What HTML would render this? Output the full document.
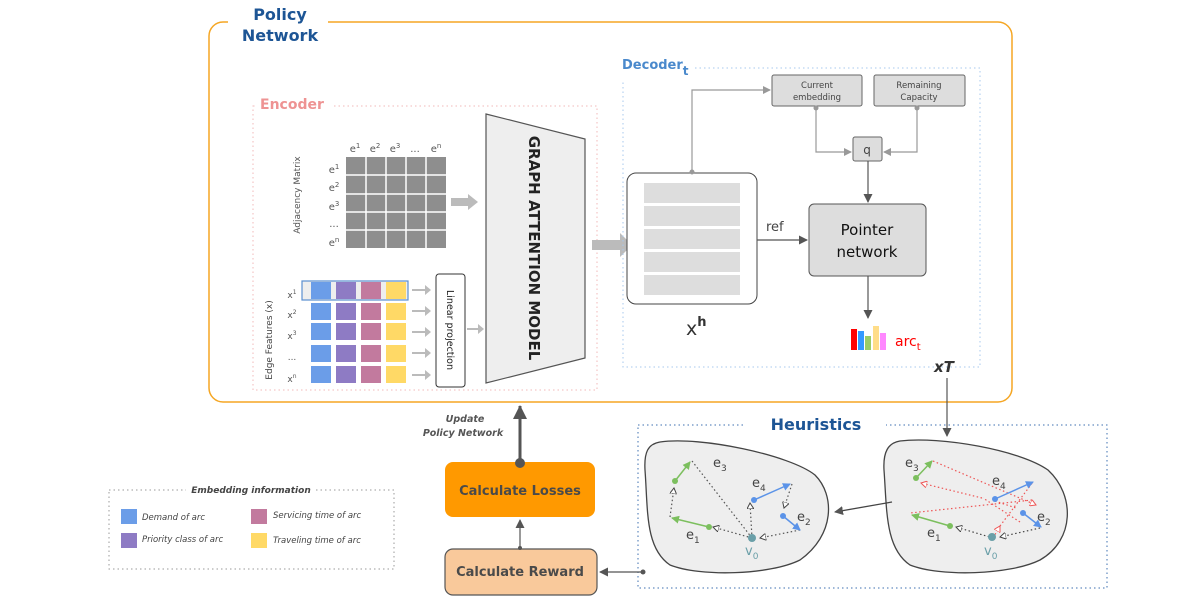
<!DOCTYPE html>
<html><head><meta charset="utf-8"><style>
html,body{margin:0;padding:0;background:#fff;}
svg{display:block;font-family:"DejaVu Sans","Liberation Sans",sans-serif;}
</style></head><body>
<svg width="1196" height="603" viewBox="0 0 1196 603" xmlns="http://www.w3.org/2000/svg">
<defs>
<marker id="ag" markerWidth="8" markerHeight="8" refX="7" refY="4" orient="auto" markerUnits="userSpaceOnUse"><path d="M0,0 L8,4 L0,8 z" fill="#999"/></marker>
<marker id="ad" markerWidth="9" markerHeight="9" refX="8" refY="4.5" orient="auto" markerUnits="userSpaceOnUse"><path d="M0,0 L9,4.5 L0,9 z" fill="#555"/></marker>
<marker id="ab" markerWidth="14" markerHeight="14" refX="13" refY="7" orient="auto" markerUnits="userSpaceOnUse"><path d="M0,0 L14,7 L0,14 z" fill="#555"/></marker>
<marker id="ob" markerWidth="8" markerHeight="8" refX="7" refY="4" orient="auto" markerUnits="userSpaceOnUse"><path d="M0,0 L8,4 L0,8 z" fill="#5b93e8"/></marker>
<marker id="og" markerWidth="8" markerHeight="8" refX="7" refY="4" orient="auto" markerUnits="userSpaceOnUse"><path d="M0,0 L8,4 L0,8 z" fill="#7cbf5e"/></marker>
<marker id="ot" markerWidth="7" markerHeight="7" refX="6" refY="3.5" orient="auto" markerUnits="userSpaceOnUse"><path d="M0,0 L6,3.5 L0,7 z" fill="#fff" stroke="#444"/></marker>
<marker id="or" markerWidth="7" markerHeight="7" refX="6" refY="3.5" orient="auto" markerUnits="userSpaceOnUse"><path d="M0,0 L6,3.5 L0,7 z" fill="#fff" stroke="#e55"/></marker>
</defs>

<rect x="209" y="22" width="803" height="380" rx="14" fill="none" stroke="#f5a623" stroke-width="1.5"/>
<rect x="228" y="14" width="100" height="14" fill="#fff"/>
<text x="280" y="20" font-size="16" font-weight="bold" fill="#1d5595" text-anchor="middle">Policy</text>
<text x="280" y="41" font-size="16" font-weight="bold" fill="#1d5595" text-anchor="middle">Network</text>

<rect x="253" y="106" width="344" height="284" fill="none" stroke="#f2b8b8" stroke-dasharray="1.5,3"/>
<rect x="255" y="96" width="76" height="18" fill="#fff"/>
<text x="260" y="109" font-size="14" font-weight="bold" fill="#ee9393">Encoder</text>

<g font-size="10" fill="#555">
<text x="355" y="152" text-anchor="middle">e<tspan font-size="7" dy="-4">1</tspan></text>
<text x="375" y="152" text-anchor="middle">e<tspan font-size="7" dy="-4">2</tspan></text>
<text x="395" y="152" text-anchor="middle">e<tspan font-size="7" dy="-4">3</tspan></text>
<text x="415" y="152" text-anchor="middle">...</text>
<text x="436" y="152" text-anchor="middle">e<tspan font-size="7" dy="-4">n</tspan></text>
<text x="334" y="173" text-anchor="middle">e<tspan font-size="7" dy="-4">1</tspan></text>
<text x="334" y="191" text-anchor="middle">e<tspan font-size="7" dy="-4">2</tspan></text>
<text x="334" y="210" text-anchor="middle">e<tspan font-size="7" dy="-4">3</tspan></text>
<text x="334" y="227" text-anchor="middle">...</text>
<text x="334" y="246" text-anchor="middle">e<tspan font-size="7" dy="-4">n</tspan></text>
</g>
<rect x="346" y="157" width="100" height="91" fill="#8e8e8e"/>
<g stroke="#fff" stroke-width="1.5">
<line x1="366" y1="157" x2="366" y2="248"/><line x1="386" y1="157" x2="386" y2="248"/><line x1="406" y1="157" x2="406" y2="248"/><line x1="426" y1="157" x2="426" y2="248"/>
<line x1="346" y1="175" x2="446" y2="175"/><line x1="346" y1="194" x2="446" y2="194"/><line x1="346" y1="212" x2="446" y2="212"/><line x1="346" y1="230" x2="446" y2="230"/>
</g>
<text transform="translate(300,195) rotate(-90)" font-size="9" fill="#555" text-anchor="middle">Adjacency Matrix</text>
<path d="M451,198 L468,198 L468,194 L478,202 L468,210 L468,206 L451,206 z" fill="#bbb"/>

<text transform="translate(272,340) rotate(-90)" font-size="9" fill="#444" text-anchor="middle">Edge Features (x)</text>
<g font-size="9" fill="#555">
<text x="292" y="298" text-anchor="middle">x<tspan font-size="6" dy="-4">1</tspan></text>
<text x="292" y="318" text-anchor="middle">x<tspan font-size="6" dy="-4">2</tspan></text>
<text x="292" y="339" text-anchor="middle">x<tspan font-size="6" dy="-4">3</tspan></text>
<text x="292" y="360" text-anchor="middle">...</text>
<text x="292" y="382" text-anchor="middle">x<tspan font-size="6" dy="-4">n</tspan></text>
</g>
<rect x="302" y="281" width="106" height="19" fill="#eee" stroke="#5b8fd0" stroke-width="1.2"/>
<g>
<rect x="311" y="282" width="20" height="17" fill="#6b9de8"/><rect x="336" y="282" width="20" height="17" fill="#8e7bc4"/><rect x="361" y="282" width="20" height="17" fill="#c27a9e"/><rect x="386" y="282" width="20" height="17" fill="#ffd966"/>
<rect x="311" y="303" width="20" height="17" fill="#6b9de8"/><rect x="336" y="303" width="20" height="17" fill="#8e7bc4"/><rect x="361" y="303" width="20" height="17" fill="#c27a9e"/><rect x="386" y="303" width="20" height="17" fill="#ffd966"/>
<rect x="311" y="323" width="20" height="17" fill="#6b9de8"/><rect x="336" y="323" width="20" height="17" fill="#8e7bc4"/><rect x="361" y="323" width="20" height="17" fill="#c27a9e"/><rect x="386" y="323" width="20" height="17" fill="#ffd966"/>
<rect x="311" y="345" width="20" height="17" fill="#6b9de8"/><rect x="336" y="345" width="20" height="17" fill="#8e7bc4"/><rect x="361" y="345" width="20" height="17" fill="#c27a9e"/><rect x="386" y="345" width="20" height="17" fill="#ffd966"/>
<rect x="311" y="366" width="20" height="17" fill="#6b9de8"/><rect x="336" y="366" width="20" height="17" fill="#8e7bc4"/><rect x="361" y="366" width="20" height="17" fill="#c27a9e"/><rect x="386" y="366" width="20" height="17" fill="#ffd966"/>
</g>
<g fill="#bbb">
<path d="M412,289 h13 v-4 l6,5 l-6,5 v-4 h-13z"/>
<path d="M412,310 h13 v-4 l6,5 l-6,5 v-4 h-13z"/>
<path d="M412,331 h13 v-4 l6,5 l-6,5 v-4 h-13z"/>
<path d="M412,352 h13 v-4 l6,5 l-6,5 v-4 h-13z"/>
<path d="M412,374 h13 v-4 l6,5 l-6,5 v-4 h-13z"/>
<path d="M467,328 h11 v-4 l6,5 l-6,5 v-4 h-11z"/>
</g>
<rect x="436" y="274" width="29" height="113" rx="3" fill="#fff" stroke="#333"/>
<text transform="translate(447,330) rotate(90)" font-size="9.5" fill="#222" text-anchor="middle">Linear projection</text>

<polygon points="486,114 585,139 585,358 486,383" fill="#eee" stroke="#555" stroke-width="1.2"/>
<text transform="translate(529,248) rotate(90)" font-size="15" font-weight="bold" fill="#222" text-anchor="middle">GRAPH ATTENTION MODEL</text>
<path d="M592,240 h28 v-7 l12,12 l-12,12 v-7 h-28z" fill="#bbb"/>

<rect x="623" y="68" width="357" height="299" fill="none" stroke="#a7c8ee" stroke-dasharray="1.5,3"/>
<rect x="620" y="56" width="72" height="24" fill="#fff"/>
<text x="622" y="69" font-size="13" font-weight="bold" fill="#4a89cc">Decoder<tspan font-size="12" dy="6">t</tspan></text>

<rect x="627" y="173" width="130" height="131" rx="9" fill="#fff" stroke="#444"/>
<g fill="#ddd">
<rect x="644" y="183" width="96" height="20"/><rect x="644" y="206" width="96" height="20"/><rect x="644" y="229" width="96" height="20"/><rect x="644" y="252" width="96" height="20"/><rect x="644" y="275" width="96" height="20"/>
</g>
<text x="686" y="335" font-size="19" fill="#333">x<tspan font-size="13" font-weight="bold" dy="-9">h</tspan></text>

<rect x="772" y="75" width="90" height="31" rx="2" fill="#ddd" stroke="#666"/>
<text x="817" y="88" font-size="8.5" fill="#444" text-anchor="middle">Current</text>
<text x="817" y="100" font-size="8.5" fill="#444" text-anchor="middle">embedding</text>
<rect x="874" y="75" width="91" height="31" rx="2" fill="#ddd" stroke="#666"/>
<text x="919" y="88" font-size="8.5" fill="#444" text-anchor="middle">Remaining</text>
<text x="919" y="100" font-size="8.5" fill="#444" text-anchor="middle">Capacity</text>
<rect x="853" y="137" width="29" height="24" rx="2" fill="#ddd" stroke="#666"/>
<text x="867" y="154" font-size="12" fill="#444" text-anchor="middle">q</text>
<rect x="809" y="204" width="117" height="72" rx="5" fill="#ddd" stroke="#555"/>
<text x="867" y="235" font-size="15" fill="#111" text-anchor="middle">Pointer</text>
<text x="867" y="257" font-size="15" fill="#111" text-anchor="middle">network</text>

<g stroke="#999" fill="none" stroke-width="1.2">
<path d="M692,172 V90 H770" marker-end="url(#ag)"/>
<path d="M816,108 V152 H851" marker-end="url(#ag)"/>
<path d="M917,108 V152 H884" marker-end="url(#ag)"/>
</g>
<circle cx="692" cy="172" r="2.5" fill="#999"/><circle cx="816" cy="108" r="2.5" fill="#999"/><circle cx="917" cy="108" r="2.5" fill="#999"/>
<g stroke="#555" fill="none" stroke-width="1.2">
<path d="M868,161 V202" marker-end="url(#ad)"/>
<path d="M757,240 H807" marker-end="url(#ad)"/>
<path d="M868,276 V318" marker-end="url(#ad)"/>
</g>
<text x="766" y="231" font-size="13" fill="#444">ref</text>
<rect x="851" y="329" width="6" height="21" fill="#f00"/><rect x="858" y="331" width="6" height="19" fill="#39f"/><rect x="865" y="336" width="6" height="14" fill="#9c6"/><rect x="873" y="326" width="6" height="24" fill="#fd8"/><rect x="880" y="333" width="6" height="17" fill="#f8f"/>
<text x="895" y="346" font-size="14" fill="#f00">arc<tspan font-size="10" dy="4">t</tspan></text>
<text x="934" y="372" font-size="15" font-weight="bold" font-style="italic" fill="#333">xT</text>
<path d="M947,378 V436" stroke="#555" stroke-width="1.2" marker-end="url(#ad)"/>

<rect x="638" y="425" width="469" height="163" fill="none" stroke="#3d6fb0" stroke-dasharray="1.5,3"/>
<rect x="746" y="414" width="140" height="20" fill="#fff"/>
<text x="816" y="430" font-size="16" font-weight="bold" fill="#1d5595" text-anchor="middle">Heuristics</text>

<path d="M660,442 C700,436 790,455 815,475 C835,495 835,535 800,560 C770,575 700,577 670,565 C645,548 648,510 645,470 C644,452 648,444 660,442z" fill="#eee" stroke="#444" stroke-width="1.3"/>
<path d="M900,441 C940,436 1020,450 1048,470 C1075,495 1075,540 1040,560 C1010,575 940,577 910,565 C885,548 887,510 884,470 C883,452 888,443 900,441z" fill="#eee" stroke="#444" stroke-width="1.3"/>
<path d="M892,502 L835,512" stroke="#444" stroke-width="1.3" marker-end="url(#ad)"/>

<g stroke="#555" stroke-dasharray="1.5,2.5" fill="none" stroke-width="1.2">
<path d="M692,461 L752,538"/>
<path d="M670,517 L674,488" marker-end="url(#ot)"/>
<path d="M752,538 L750,503" marker-end="url(#ot)"/>
<path d="M752,538 L713,527" marker-end="url(#ot)"/>
<path d="M800,530 L760,538" marker-end="url(#ot)"/>
<path d="M792,484 L784,508" marker-end="url(#ot)"/>
</g>
<path d="M675,481 L690,462" stroke="#7cbf5e" stroke-width="1.5" marker-end="url(#og)"/>
<path d="M709,527 L672,518" stroke="#7cbf5e" stroke-width="1.5" marker-end="url(#og)"/>
<path d="M754,500 L790,484" stroke="#5b93e8" stroke-width="1.5" marker-end="url(#ob)"/>
<path d="M783,516 L800,530" stroke="#5b93e8" stroke-width="1.5" marker-end="url(#ob)"/>
<circle cx="675" cy="481" r="3" fill="#7cbf5e"/><circle cx="709" cy="527" r="3" fill="#7cbf5e"/>
<circle cx="754" cy="500" r="3" fill="#5b93e8"/><circle cx="783" cy="516" r="3" fill="#5b93e8"/>
<circle cx="752" cy="538" r="4" fill="#6a9fa8"/>
<g font-size="13" fill="#444">
<text x="713" y="467">e<tspan font-size="9" dy="4">3</tspan></text>
<text x="752" y="487">e<tspan font-size="9" dy="4">4</tspan></text>
<text x="797" y="521">e<tspan font-size="9" dy="4">2</tspan></text>
<text x="686" y="539">e<tspan font-size="9" dy="4">1</tspan></text>
</g>
<text x="745" y="555" font-size="13" fill="#6a9fa8">v<tspan font-size="9" dy="4">0</tspan></text>

<g stroke="#e55" stroke-dasharray="1.5,2.5" fill="none" stroke-width="1.2">
<path d="M933,461 L1036,505" marker-end="url(#or)"/>
<path d="M1032,500 L910,513"/>
<path d="M993,538 L1000,526" marker-end="url(#or)"/>
<path d="M1000,526 L1033,482"/>
<path d="M1020,522 L983,498"/>
<path d="M982,498 L921,483" marker-end="url(#or)"/>
<path d="M995,501 L1016,508"/>
</g>
<g stroke="#444" stroke-dasharray="1.5,2.5" fill="none" stroke-width="1.2">
<path d="M993,538 L956,527" marker-end="url(#ot)"/>
<path d="M1040,528 L1000,537" marker-end="url(#ot)"/>
</g>
<path d="M916,478 L932,461" stroke="#7cbf5e" stroke-width="1.5" marker-end="url(#og)"/>
<path d="M950,526 L912,515" stroke="#7cbf5e" stroke-width="1.5" marker-end="url(#og)"/>
<path d="M995,499 L1033,482" stroke="#5b93e8" stroke-width="1.5" marker-end="url(#ob)"/>
<path d="M1023,513 L1041,527" stroke="#5b93e8" stroke-width="1.5" marker-end="url(#ob)"/>
<circle cx="916" cy="478" r="3" fill="#7cbf5e"/><circle cx="950" cy="526" r="3" fill="#7cbf5e"/>
<circle cx="995" cy="499" r="3" fill="#5b93e8"/><circle cx="1023" cy="513" r="3" fill="#5b93e8"/>
<circle cx="992" cy="537" r="4" fill="#6a9fa8"/>
<g font-size="13" fill="#444">
<text x="905" y="467">e<tspan font-size="9" dy="4">3</tspan></text>
<text x="992" y="485">e<tspan font-size="9" dy="4">4</tspan></text>
<text x="1037" y="521">e<tspan font-size="9" dy="4">2</tspan></text>
<text x="927" y="537">e<tspan font-size="9" dy="4">1</tspan></text>
</g>
<text x="984" y="555" font-size="13" fill="#6a9fa8">v<tspan font-size="9" dy="4">0</tspan></text>

<rect x="445" y="462" width="150" height="55" rx="8" fill="#ff9900"/>
<text x="520" y="495" font-size="13" font-weight="bold" fill="#4a4a4a" text-anchor="middle">Calculate Losses</text>
<rect x="445" y="549" width="152" height="46" rx="8" fill="#f9c99b" stroke="#555" stroke-width="1.2"/>
<text x="520" y="576" font-size="13" font-weight="bold" fill="#4a4a4a" text-anchor="middle">Calculate Reward</text>
<path d="M520,549 V520" stroke="#555" stroke-width="1.2" marker-end="url(#ad)"/>
<circle cx="520" cy="548" r="2" fill="#555"/>
<path d="M520,463 V406" stroke="#555" stroke-width="3" marker-end="url(#ab)"/>
<circle cx="520" cy="463" r="5" fill="#555"/>
<text x="465" y="422" font-size="9.5" font-weight="bold" font-style="italic" fill="#555" text-anchor="middle">Update</text>
<text x="463" y="436" font-size="9.5" font-weight="bold" font-style="italic" fill="#555" text-anchor="middle">Policy Network</text>
<path d="M643,572 H600" stroke="#555" stroke-width="1.2" marker-end="url(#ad)"/>
<circle cx="643" cy="572" r="2.5" fill="#555"/>

<rect x="109" y="490" width="285" height="79" fill="none" stroke="#999" stroke-dasharray="1.5,3"/>
<rect x="186" y="483" width="130" height="14" fill="#fff"/>
<text x="251" y="493" font-size="9" font-style="italic" font-weight="bold" fill="#444" text-anchor="middle">Embedding information</text>
<rect x="121" y="509" width="16" height="15" fill="#6b9de8"/><text x="142" y="520" font-size="8.5" font-style="italic" fill="#444">Demand of arc</text>
<rect x="121" y="533" width="16" height="15" fill="#8e7bc4"/><text x="142" y="542" font-size="8.5" font-style="italic" fill="#444">Priority class of arc</text>
<rect x="251" y="509" width="16" height="15" fill="#c27a9e"/><text x="273" y="518" font-size="8.5" font-style="italic" fill="#444">Servicing time of arc</text>
<rect x="251" y="533" width="16" height="15" fill="#ffd966"/><text x="273" y="543" font-size="8.5" font-style="italic" fill="#444">Traveling time of arc</text>
</svg>
</body></html>
